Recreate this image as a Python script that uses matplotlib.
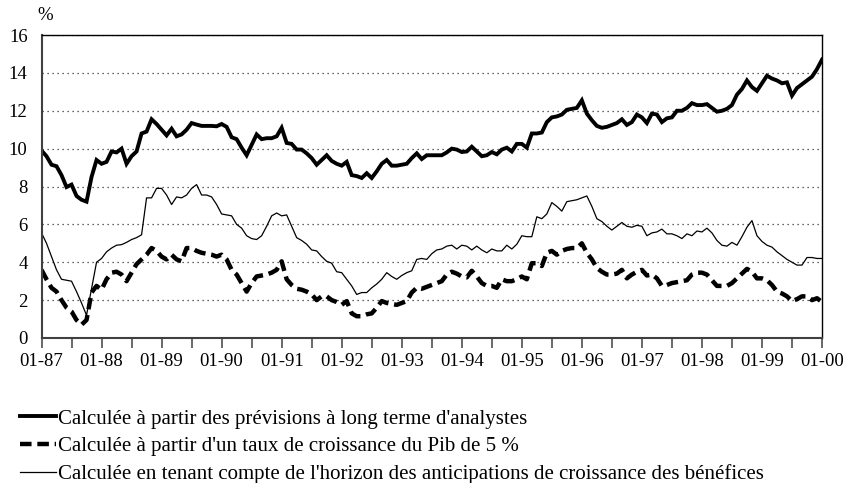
import numpy as np
import matplotlib
matplotlib.use("Agg")
import matplotlib.pyplot as plt

plt.rcParams['font.family'] = ['Liberation Serif', 'DejaVu Serif']

# monthly values, 01-87 .. 01-00
analystes = [
    9.9, 9.6, 9.15, 9.07, 8.6, 7.97, 8.1, 7.5, 7.3, 7.2,
    8.5, 9.4, 9.2, 9.3, 9.85, 9.8, 10.0, 9.2, 9.6, 9.85,
    10.8, 10.9, 11.55, 11.3, 11.0, 10.7, 11.05, 10.65, 10.75, 11.0,
    11.35, 11.27, 11.2, 11.2, 11.2, 11.18, 11.3, 11.15, 10.6, 10.5,
    10.05, 9.65, 10.2, 10.75, 10.5, 10.55, 10.55, 10.65, 11.1, 10.3,
    10.25, 9.95, 9.95, 9.75, 9.5, 9.15, 9.4, 9.65, 9.35, 9.2,
    9.1, 9.3, 8.6, 8.55, 8.45, 8.7, 8.45, 8.8, 9.2, 9.4,
    9.1, 9.1, 9.15, 9.2, 9.5, 9.75, 9.45, 9.65, 9.65, 9.65,
    9.65, 9.8, 10.0, 9.95, 9.82, 9.85, 10.1, 9.85, 9.6, 9.65,
    9.82, 9.7, 9.95, 10.05, 9.85, 10.25, 10.25, 10.05, 10.8, 10.8,
    10.85, 11.4, 11.65, 11.7, 11.8, 12.05, 12.1, 12.15, 12.55, 11.85,
    11.5, 11.2, 11.1, 11.15, 11.25, 11.35, 11.55, 11.25, 11.4, 11.8,
    11.65, 11.35, 11.85, 11.8, 11.4, 11.6, 11.65, 12.0, 12.0, 12.15,
    12.4, 12.3, 12.3, 12.35, 12.15, 11.95, 12.0, 12.1, 12.3, 12.85,
    13.15, 13.6, 13.25, 13.05, 13.45, 13.85, 13.7, 13.6, 13.45, 13.5,
    12.8, 13.2, 13.4, 13.6, 13.8, 14.2, 14.7,
]
pib = [
    3.6, 3.1, 2.65, 2.45, 2.0, 1.6, 1.4, 0.95, 0.7, 0.95,
    2.4, 2.75, 2.55, 3.1, 3.45, 3.5, 3.35, 3.0, 3.45, 3.9,
    4.15, 4.4, 4.75, 4.6, 4.3, 4.15, 4.4, 4.15, 4.05, 4.75,
    4.75, 4.6, 4.5, 4.45, 4.4, 4.3, 4.4, 4.15, 3.6, 3.35,
    2.9, 2.45, 2.9, 3.25, 3.3, 3.35, 3.45, 3.6, 4.05, 3.1,
    2.8, 2.6, 2.55, 2.45, 2.3, 2.0, 2.2, 2.2, 2.0, 1.9,
    1.75, 1.95, 1.3, 1.15, 1.15, 1.25, 1.3, 1.6, 1.95, 1.85,
    1.8, 1.75, 1.85, 1.95, 2.4, 2.65, 2.6, 2.7, 2.8, 2.9,
    3.0, 3.35, 3.5, 3.4, 3.25, 3.2, 3.55, 3.25, 2.9, 2.75,
    2.75, 2.65, 3.1, 3.0, 3.0, 3.1, 3.25, 3.1, 3.95, 3.95,
    3.8, 4.5, 4.6, 4.4, 4.6, 4.7, 4.75, 4.75, 5.0, 4.5,
    4.15, 3.7, 3.5, 3.35, 3.35, 3.4, 3.6, 3.15, 3.35, 3.5,
    3.6, 3.3, 3.35, 3.15, 2.75, 2.8, 2.9, 2.95, 3.0, 3.05,
    3.35, 3.45, 3.45, 3.35, 3.05, 2.75, 2.75, 2.75, 2.9, 3.15,
    3.4, 3.65, 3.5, 3.15, 3.15, 3.05, 2.8, 2.45, 2.35, 2.2,
    1.95, 2.05, 2.2, 2.2, 2.0, 2.1, 1.9,
]
horizon = [
    5.55, 5.0, 4.3, 3.6, 3.1, 3.05, 3.0, 2.45, 1.85, 1.2,
    2.6, 4.0, 4.2, 4.55, 4.75, 4.9, 4.93, 5.05, 5.2, 5.3,
    5.45, 7.4, 7.4, 7.9, 7.9, 7.55, 7.05, 7.45, 7.4, 7.55,
    7.9, 8.1, 7.55, 7.55, 7.45, 7.05, 6.55, 6.5, 6.45, 6.0,
    5.8, 5.4, 5.25, 5.2, 5.4, 5.9, 6.45, 6.6, 6.45, 6.5,
    5.9, 5.3, 5.15, 4.95, 4.65, 4.6, 4.3, 4.05, 3.95, 3.5,
    3.45, 3.1, 2.75, 2.3, 2.4, 2.4, 2.65, 2.85, 3.1, 3.45,
    3.25, 3.1, 3.3, 3.45, 3.55, 4.15, 4.2, 4.15, 4.45, 4.65,
    4.7, 4.85, 4.9, 4.7, 4.9, 4.85, 4.65, 4.85, 4.65, 4.5,
    4.7, 4.6, 4.6, 4.9, 4.7, 4.95, 5.4, 5.35, 5.35, 6.4,
    6.3, 6.55, 7.15, 6.95, 6.7, 7.2, 7.25, 7.3, 7.4, 7.5,
    6.95, 6.3, 6.15, 5.9, 5.7, 5.9, 6.1, 5.9, 5.85, 5.95,
    5.9, 5.4, 5.55, 5.6, 5.75, 5.5, 5.5, 5.4, 5.25, 5.5,
    5.4, 5.65, 5.6, 5.8, 5.55, 5.15, 4.9, 4.85, 5.05, 4.9,
    5.35, 5.85, 6.2, 5.4, 5.1, 4.9, 4.8, 4.55, 4.35, 4.15,
    4.0, 3.85, 3.85, 4.25, 4.25, 4.2, 4.2,
]
year_labels = ['01-87', '01-88', '01-89', '01-90', '01-91', '01-92', '01-93',
               '01-94', '01-95', '01-96', '01-97', '01-98', '01-99', '01-00']
legend_labels = [
    "Calculée à partir des prévisions à long terme d'analystes",
    "Calculée à partir d'un taux de croissance du Pib de 5 %",
    "Calculée en tenant compte de l'horizon des anticipations de croissance des bénéfices",
]

months = np.arange(len(analystes))

fig = plt.figure(figsize=(8.58, 4.83), dpi=100)
ax = fig.add_axes([41.5/858, 145/483, (822-41.5)/858, (338-35)/483])

l1, = ax.plot(months, analystes, color='black', lw=2.8, solid_joinstyle='miter')
l2, = ax.plot(months, pib, color='black', lw=3.2, dashes=(2.6, 1.3))
l3, = ax.plot(months, horizon, color='black', lw=0.9)

ax.set_xlim(0, len(months) - 1)
ax.set_ylim(0, 16)
ax.set_yticks(range(0, 17, 2))
ax.set_xticks(np.arange(0, len(months), 12))
ax.set_xticklabels(year_labels)
ax.set_xticks(np.arange(6, len(months), 12), minor=True)
ax.tick_params(axis='x', which='both', direction='out', length=7, width=1.1,
               color='#404040', labelsize=13.5, pad=4)
ax.tick_params(axis='y', length=0, labelsize=13.5, pad=10)
ax.yaxis.grid(True, linestyle=(0, (1, 3)), color='#333333', lw=0.9)
ax.set_axisbelow(True)
for side in ['left', 'bottom']:
    ax.spines[side].set_color('#404040')
    ax.spines[side].set_linewidth(1.5)
for side in ['top', 'right']:
    ax.spines[side].set_color('black')
    ax.spines[side].set_linewidth(1.0)

fig.text(45/858, 1 - 15/483, '%', fontsize=13.5, va='center', ha='center')

fig.legend([l1, l2, l3], legend_labels, loc='upper left',
           bbox_to_anchor=(20/858, 1 - 409/483), frameon=False,
           fontsize=15, handlelength=1.75, handletextpad=0.08,
           labelspacing=0.38, borderpad=0, borderaxespad=0)

fig.savefig('out.png', dpi=100)
